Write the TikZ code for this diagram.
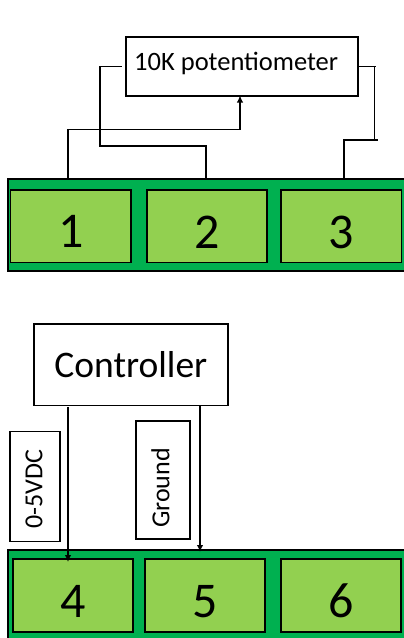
\documentclass[tikz,border=0pt]{standalone}
\usepackage{fontspec}
\setmainfont{Carlito}
\usetikzlibrary{arrows.meta}
\definecolor{stripgreen}{HTML}{00B050}
\definecolor{padgreen}{HTML}{92D050}
\tikzset{
 strip/.style={draw=black,line width=1.8pt,fill=stripgreen,inner sep=0pt,anchor=north west},
 pad/.style={draw=black,line width=1.8pt,fill=padgreen,inner sep=0pt,anchor=center,minimum width=120.5pt,minimum height=72.5pt,font=\fontsize{50}{50}\selectfont,text depth=0pt},
 whitebox/.style={draw=black,line width=1.8pt,fill=white,inner sep=0pt},
 wire/.style={draw=black,line width=1.6pt,line join=miter},
 arrowwire/.style={wire,-{Latex[length=7pt,width=6.5pt]}},
}
\begin{document}
\begin{tikzpicture}[x=1pt,y=-1pt]
\useasboundingbox (0,0) rectangle (404,638);
\clip (0,0) rectangle (404,638);
\path[fill=white] (0,0) rectangle (404,638);
% top strip
\node[strip,minimum width=410pt,minimum height=92pt] (stripA) at (7,178) {};
\node[pad] (p1) at (70.7,226.3) {\raisebox{-11pt}{1}};
\node[pad] (p2) at (206.9,226.3) {\raisebox{-11pt}{2}};
\node[pad] (p3) at (341.2,226.3) {\raisebox{-11pt}{3}};
% potentiometer
\node[whitebox,minimum width=232pt,minimum height=58.5pt,anchor=north west] (pot) at (125,36.2) {};
\node[font=\fontsize{26.5}{26.5}\selectfont,anchor=west,inner sep=0pt] (pottext) at (134,63.5) {10K potentiometer};
\coordinate (a1) at (68,178);
\coordinate (a2) at (206,178);
\coordinate (a3) at (344,178);
\coordinate (potL) at (122,66.5);
\coordinate (potR) at (376,66.5);
\coordinate (potM) at (240,95.5);
\coordinate (brk1) at (374.5,139);
\coordinate (brk2) at (378,140);
\draw[arrowwire] (a1) -- (68,129.5) -- (240,129.5) -- (potM);
\draw[wire] (a2) -- (206,146) -- (100,146) -- (100,66.5) -- (potL);
\draw[wire] (pot.east |- potR) -- (potR);
\draw[wire] (374.5,66.5) -- (brk1);
\draw[wire] (a3) -- (344,140) -- (brk2);
% bottom strip
\node[strip,minimum width=410pt,minimum height=100pt] (stripB) at (7,549) {};
\node[pad] (p4) at (73,595.5) {\raisebox{-11pt}{4}};
\node[pad] (p5) at (205,595.5) {\raisebox{-11pt}{5}};
\node[pad] (p6) at (341,595.5) {\raisebox{-11pt}{6}};
% controller
\node[whitebox,minimum width=194pt,minimum height=81.5pt,anchor=north west,font=\fontsize{37.5}{37.5}\selectfont] (ctrl) at (33,323) {\raisebox{-1pt}{Controller}};
\node[whitebox,minimum width=50pt,minimum height=110pt,anchor=north west] (v) at (9,430.5) {};
\node[rotate=90,font=\fontsize{26}{26}\selectfont,inner sep=0pt] (vt) at (34,489) {0-5VDC};
\node[whitebox,minimum width=53.5pt,minimum height=118pt,anchor=north west] (g) at (135.2,420) {};
\node[rotate=90,font=\fontsize{26}{26}\selectfont,inner sep=0pt] (gt) at (160.5,488) {Ground};
\coordinate (c1) at (68,407);
\coordinate (c2) at (200,405);
\draw[arrowwire] (c1) -- (68,562);
\draw[arrowwire] (c2) -- (200,552);
\end{tikzpicture}
\end{document}
